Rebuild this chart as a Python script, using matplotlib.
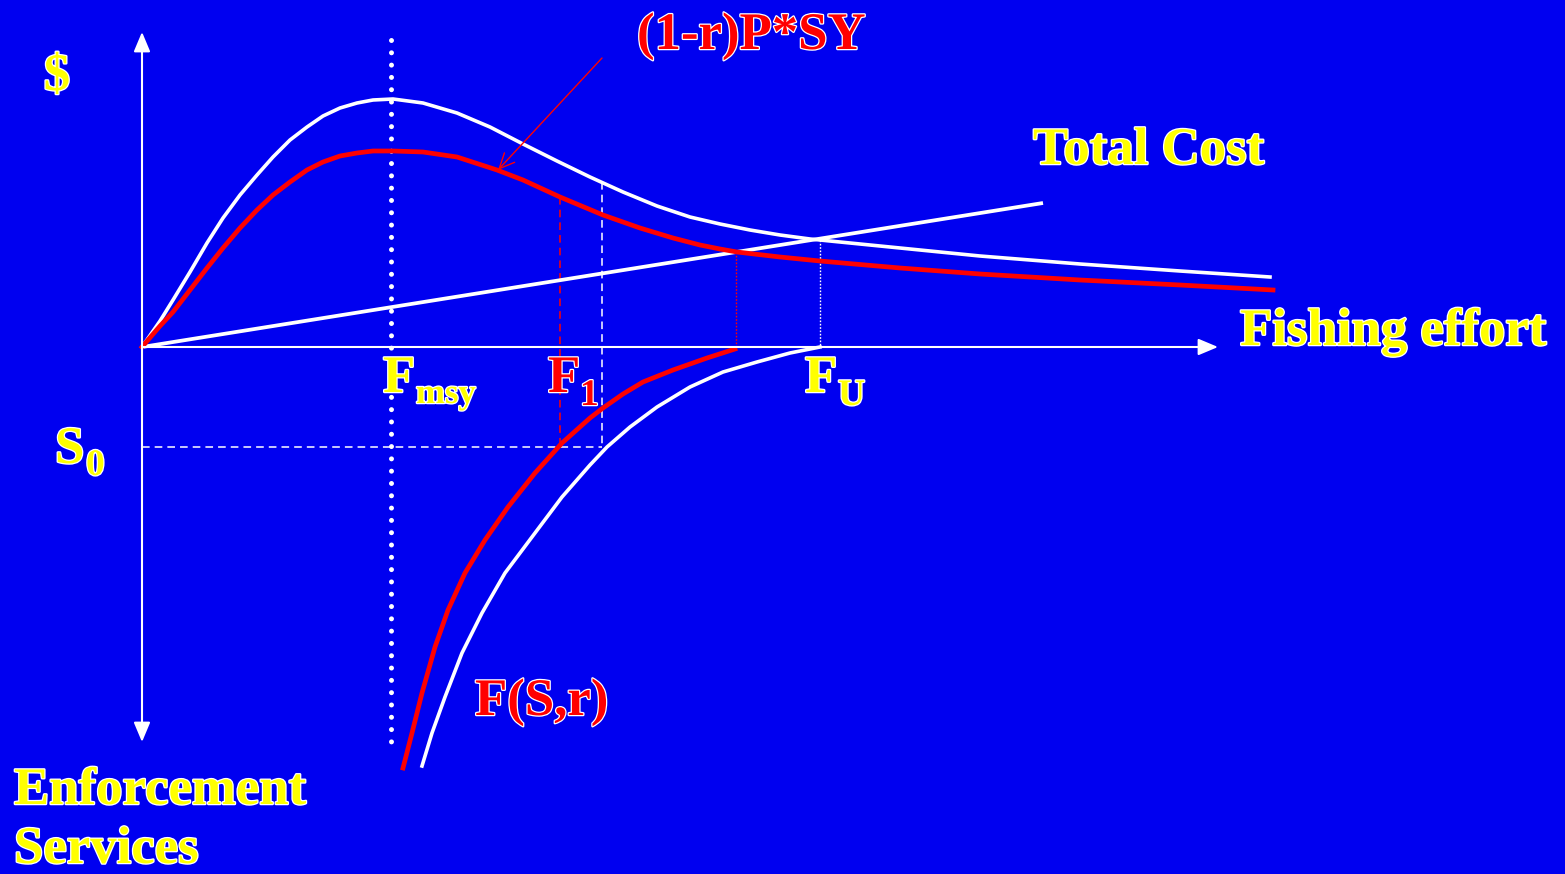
import matplotlib.pyplot as plt
import matplotlib.patheffects as pe

# bio-economic diagram: effort on x, $ up / enforcement services down
# units are just screen-ish units (origin = axes crossing)

# P*SY (white) and (1-r)P*SY (red) revenue curves
rev_x = [0, 18, 31, 48, 65, 81, 98, 115, 131, 148, 165, 181, 198, 215, 231,
         251, 281, 315, 348, 381, 415, 448, 481, 515, 548, 578, 608, 638,
         668, 718, 758, 838, 938, 1038, 1128]
rev_y = [0, 26, 47, 75, 104, 129, 152, 172, 190, 207, 220, 231, 239, 244, 247,
         248, 244, 234, 220, 203, 186, 170, 155, 141, 130, 123, 117, 112,
         108, 103, 99, 91, 83, 76, 70]

rev_r_x = [0, 18, 31, 48, 65, 81, 98, 115, 131, 148, 165, 181, 198, 215, 231,
           251, 281, 315, 355, 381, 418, 461, 498, 531, 558, 578, 595, 638,
           678, 758, 838, 938, 1038, 1131]
rev_r_y = [0, 21, 35, 57, 79, 99, 119, 137, 152, 165, 177, 185, 191, 194, 196,
           196, 195, 190, 177, 167, 150, 132, 119, 109, 102, 98, 95, 90,
           86, 79, 73, 67, 62, 57]

# total cost line
cost_x = [0, 901]
cost_y = [0, 144]

# F(S,r) enforcement curves (below the effort axis)
fs_r_x = [261, 270, 280, 293, 306, 323, 343, 366, 393, 420, 448, 461, 481,
          501, 531, 565, 593]
fs_r_y = [-421, -386, -346, -300, -263, -226, -193, -160, -126, -96, -71,
          -61, -47, -35, -23, -11, -2]

fs_w_x = [280, 290, 303, 320, 340, 363, 390, 420, 448, 465, 488, 515, 548,
          581, 615, 648, 678]
fs_w_y = [-419, -386, -350, -306, -266, -226, -190, -150, -118, -100, -80,
          -60, -40, -25, -15, -6, 0]

# reference efforts / levels
f_msy = 249
f_1 = 418
f_1w = 460
f_be_r = 594
f_u = 678
s_0 = -100

BG = '#0000f0'
YEL = '#ffff00'
RED = '#ff0000'
FONT = 'Liberation Serif'

fig = plt.figure(figsize=(15.65, 8.74), dpi=100, facecolor=BG)
ax = fig.add_axes([0, 0, 1, 1])
ax.set_facecolor(BG)
ax.set_xlim(-142, 1423)
ax.set_ylim(-527, 347)
ax.axis('off')

# axes arrows
ax.annotate('', xy=(1076, 0), xytext=(0, 0),
            arrowprops=dict(arrowstyle='-|>,head_length=1.0,head_width=0.42',
                            color='white', lw=1.5, shrinkA=0, shrinkB=0,
                            mutation_scale=12))
ax.annotate('', xy=(0, 315), xytext=(0, -395),
            arrowprops=dict(arrowstyle='<|-|>,head_length=1.0,head_width=0.42',
                            color='white', lw=1.5, shrinkA=0, shrinkB=0,
                            mutation_scale=12))

# helper lines
ax.plot([f_msy, f_msy], [307, -395], color='white', lw=3.6,
        linestyle=(0, (0.001, 2.46)), dash_capstyle='round')
ax.plot([f_1, f_1], [150, s_0], color=RED, lw=1.1, linestyle=(0, (5, 3.3)))
ax.plot([f_1w, f_1w], [165, s_0], color='white', lw=1.1, linestyle=(0, (5, 3.3)))
ax.plot([0, f_1w], [s_0, s_0], color='white', lw=1.1, linestyle=(0, (5, 3.3)))
ax.plot([f_be_r, f_be_r], [95, 0], color=RED, lw=1.0, linestyle=(0, (1.2, 1.2)))
ax.plot([f_u, f_u], [107, 0], color='white', lw=1.0, linestyle=(0, (1.2, 1.2)))

# curves
ax.plot(cost_x, cost_y, color='white', lw=2.7, solid_capstyle='butt')
ax.plot(rev_x, rev_y, color='white', lw=2.6, solid_joinstyle='round')
ax.plot(rev_r_x, rev_r_y, color=RED, lw=3.4, solid_joinstyle='round')
ax.plot(fs_w_x, fs_w_y, color='white', lw=2.6, solid_joinstyle='round')
ax.plot(fs_r_x, fs_r_y, color=RED, lw=3.4, solid_joinstyle='round')

# pointer to the red curve
ax.annotate('', xy=(356, 177), xytext=(460, 289),
            arrowprops=dict(arrowstyle='->,head_length=1.1,head_width=0.5',
                            color=RED, lw=1.0, shrinkA=0, shrinkB=0,
                            mutation_scale=10))

outline = [pe.withStroke(linewidth=1.8, foreground='white')]


def label(x, y, s, color=YEL, size=38, ha='left'):
    ax.text(x, y, s, color=color, fontsize=size, fontfamily=FONT,
            fontweight='bold', ha=ha, va='baseline', path_effects=outline)


label(-85, 257, '$', ha='center')
label(495, 298, '(1-r)P*SY', color=RED)
label(891, 183, 'Total Cost')
label(1098, 2, 'Fishing effort')
label(-128, -457, 'Enforcement')
label(-128, -516, 'Services')
label(333, -368, 'F(S,r)', color=RED)

label(241, -45, 'F')
label(274, -56, 'msy', size=25)
label(406, -45, 'F', color=RED)
label(438, -58, '1', color=RED, size=27)
label(663, -45, 'F')
label(696, -58, 'U', size=27)
label(-87, -116, 'S')
label(-56, -128, '0', size=27)

fig.savefig('out.png', dpi=100, facecolor=BG)
